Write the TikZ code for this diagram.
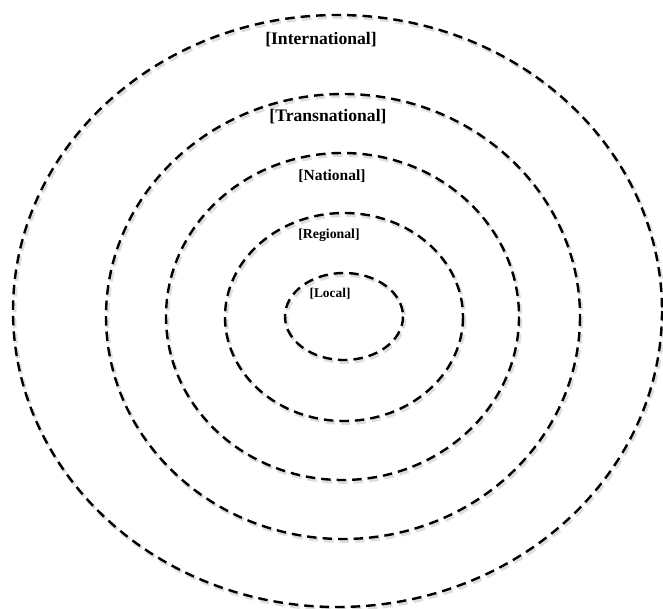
\documentclass[tikz,border=0pt]{standalone}
\usepackage{fontspec}
\setmainfont{Liberation Serif}
\begin{document}
\begin{tikzpicture}[x=1pt,y=-1pt,
  ring/.style={line width=2.4pt, dash pattern=on 9.5pt off 6pt},
  ringshadow/.style={line width=3.6pt, dash pattern=on 9.5pt off 6pt, black!13},
  lvl/.style={inner sep=0pt, font=\bfseries}]
\useasboundingbox (0,0) rectangle (663,609);
% concentric levels: centre x, centre y, x radius, y radius
\foreach \cx/\cy/\rx/\ry in {337.5/311/324.5/296, 343/316.5/237/222.5,
    342.5/316.5/176.5/163.5, 344/317/119/104, 344/316.5/59/43.5} {
  \draw[ringshadow] (\cx+1.5,\cy+2.2) ellipse [x radius=\rx, y radius=\ry];
  \draw[ring] (\cx,\cy) ellipse [x radius=\rx, y radius=\ry];
}
\node[lvl, font=\bfseries\fontsize{17.6}{18}\selectfont] (intl) at (321,40) {[International]};
\node[lvl, font=\bfseries\fontsize{17.6}{18}\selectfont] (trans) at (328,117) {[Transnational]};
\node[lvl, font=\bfseries\fontsize{15.5}{16}\selectfont] (natl) at (332,176) {[National]};
\node[lvl, font=\bfseries\fontsize{13.8}{14}\selectfont] (regl) at (329,235) {[Regional]};
\node[lvl, font=\bfseries\fontsize{13.4}{14}\selectfont] (locl) at (330,294) {[Local]};
\end{tikzpicture}
\end{document}
